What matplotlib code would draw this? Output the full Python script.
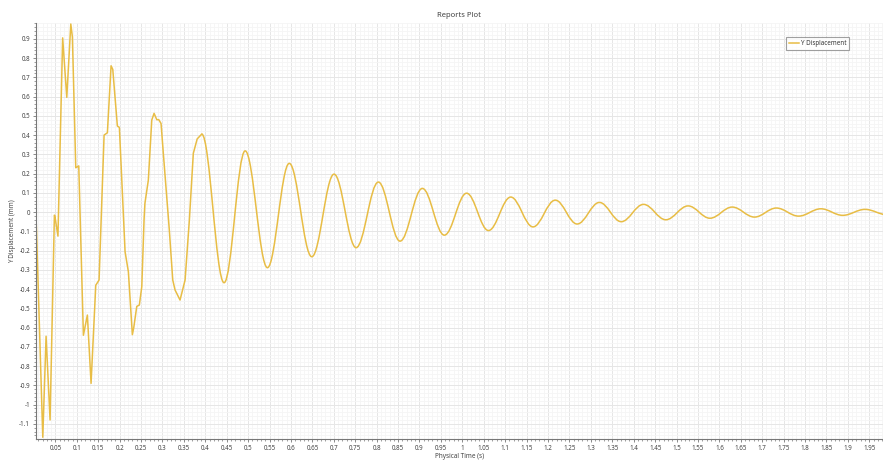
import matplotlib
matplotlib.use("Agg")
import matplotlib.pyplot as plt
from matplotlib.path import Path
from matplotlib.patches import PathPatch
from matplotlib.ticker import MultipleLocator, AutoMinorLocator, FuncFormatter

# early, irregular part of the response (time s, displacement mm)
early_t = [0.004, 0.006, 0.0206, 0.0283, 0.0376, 0.0477, 0.0488, 0.056, 0.067, 0.0766,
           0.086, 0.0897, 0.0976, 0.1046, 0.1154, 0.1247, 0.1333, 0.1443, 0.152, 0.1637,
           0.1714, 0.18, 0.184, 0.1947, 0.1994, 0.2127, 0.2204, 0.2297, 0.233, 0.24,
           0.246, 0.2517, 0.257, 0.259, 0.267, 0.275, 0.2804, 0.2867, 0.2914, 0.2967,
           0.302, 0.316, 0.324, 0.3294, 0.341, 0.3528, 0.3628, 0.372, 0.381, 0.3917]
early_y = [0.02, -0.1, -1.17, -0.645, -1.08, -0.016, -0.02, -0.125, 0.905, 0.596,
           0.977, 0.91, 0.23, 0.24, -0.64, -0.535, -0.89, -0.38, -0.353, 0.40,
           0.412, 0.76, 0.741, 0.447, 0.44, -0.206, -0.31, -0.637, -0.60, -0.49,
           -0.483, -0.388, -0.04, 0.045, 0.166, 0.478, 0.513, 0.48, 0.48, 0.46,
           0.305, -0.094, -0.353, -0.405, -0.457, -0.353, -0.04, 0.305, 0.38, 0.405]

# damped oscillation: peaks and troughs
peak_t = [0.3917, 0.493, 0.596, 0.7005, 0.804, 0.9067, 1.010, 1.113, 1.217, 1.320,
          1.423, 1.527, 1.630, 1.733, 1.837, 1.940]
peak_y = [0.405, 0.318, 0.253, 0.197, 0.156, 0.123, 0.098, 0.078, 0.062, 0.050,
          0.040, 0.032, 0.026, 0.021, 0.017, 0.014]
trough_t = [0.4438, 0.545, 0.6485, 0.752, 0.8546, 0.958, 1.061, 1.165, 1.268, 1.371,
            1.475, 1.578, 1.682, 1.785, 1.888, 1.992]
trough_y = [-0.367, -0.289, -0.232, -0.185, -0.151, -0.12, -0.096, -0.077, -0.062, -0.05,
            -0.04, -0.032, -0.026, -0.021, -0.017, -0.014]

line_color = "#e8bd45"
plt.rcParams["font.family"] = ["Noto Sans", "DejaVu Sans"]

fig = plt.figure(figsize=(8.83, 4.61), dpi=100)
ax = fig.add_axes([0.0404, 0.0477, 0.9596, 0.9023])

ax.plot(early_t, early_y, color=line_color, lw=1.1, label="Y Displacement",
        solid_joinstyle="round")

# smooth the oscillating tail with cubic curves, flat tangent at each extremum
ext = sorted(zip(peak_t + trough_t, peak_y + trough_y))
verts = [ext[0]]
codes = [Path.MOVETO]
for (t1, y1), (t2, y2) in zip(ext[:-1], ext[1:]):
    dt = t2 - t1
    verts += [(t1 + 0.37 * dt, y1), (t2 - 0.37 * dt, y2), (t2, y2)]
    codes += [Path.CURVE4] * 3
ax.add_patch(PathPatch(Path(verts, codes), facecolor="none", edgecolor=line_color,
                       lw=1.1, joinstyle="round"))

ax.set_xlim(0.004, 1.982)
ax.set_ylim(-1.179, 0.982)

fmt = FuncFormatter(lambda v, p: f"{v:.2f}".rstrip("0").rstrip(".") if abs(v) > 1e-9 else "0")
ax.xaxis.set_major_locator(MultipleLocator(0.05))
ax.yaxis.set_major_locator(MultipleLocator(0.1))
ax.xaxis.set_minor_locator(AutoMinorLocator(5))
ax.yaxis.set_minor_locator(AutoMinorLocator(5))
ax.xaxis.set_major_formatter(fmt)
ax.yaxis.set_major_formatter(fmt)

ax.grid(which="major", color="#e6e6e6", lw=0.7)
ax.grid(which="minor", color="#f5f5f5", lw=0.6)
ax.set_axisbelow(True)

for s in ["top", "right"]:
    ax.spines[s].set_visible(False)
for s in ["left", "bottom"]:
    ax.spines[s].set_color("#777777")
    ax.spines[s].set_linewidth(0.8)

ax.tick_params(which="major", length=2.5, width=0.6, color="#777777",
               labelsize=4.5, labelcolor="#444444", pad=1.5)
ax.tick_params(which="minor", length=1.3, width=0.5, color="#777777")

ax.set_xlabel("Physical Time (s)", fontsize=4.6, color="#444444", labelpad=1)
ax.set_ylabel("Y Displacement (mm)", fontsize=4.6, color="#444444", labelpad=2)
ax.set_title("Reports Plot", fontsize=5.5, color="#444444", pad=4)

leg = ax.legend(loc="upper left", bbox_to_anchor=(0.890, 0.92),
                bbox_transform=fig.transFigure, fontsize=4.5, frameon=True,
                fancybox=False, handlelength=1.6, borderpad=0.45, handletextpad=0.3,
                borderaxespad=0)
leg.get_frame().set_edgecolor("#888888")
leg.get_frame().set_linewidth(0.8)
for t in leg.get_texts():
    t.set_color("#333333")

fig.savefig("out.png", dpi=100)
